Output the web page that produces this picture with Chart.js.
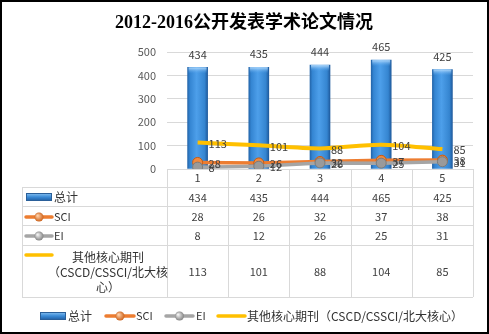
<!DOCTYPE html>
<html>
<head>
<meta charset="utf-8">
<script src="https://cdn.jsdelivr.net/npm/chart.js@4.4.1/dist/chart.umd.min.js"></script>
<style>
  html, body { margin: 0; padding: 0; background: #fff; }
  #wrap { width: 489px; height: 334px; }
</style>
</head>
<body>
<div id="wrap"><canvas id="grafico" width="489" height="334"></canvas></div>
<script>
const titulo = '2012-2016公开发表学术论文情况';
const categorias = ['1', '2', '3', '4', '5'];
const totalValores = [434, 435, 444, 465, 425];
const sciValores = [28, 26, 32, 37, 38];
const eiValores = [8, 12, 26, 25, 31];
const outrosValores = [113, 101, 88, 104, 85];
const nomesSeries = ['总计', 'SCI', 'EI', '其他核心期刊（CSCD/CSSCI/北大核心）'];
const nomeOutrosTabela = ['其他核心期刊', '（CSCD/CSSCI/北大核', '心）'];

const fonteCJK = '"Noto Sans CJK SC", "Noto Sans", sans-serif';
const corTexto = '#404040';
const corGrade = '#d9d9d9';
const corAzul = '#3a8ad6';
const corLaranja = '#ed7d31';
const corCinza = '#a5a5a5';
const corAmarelo = '#ffc000';
const larguraBarra = 20;

function gradienteBarra(ctx) {
    const chart = ctx.chart;
    const xs = chart.scales.x;
    if (!xs || !chart.chartArea) return corAzul;
    const cx = xs.getPixelForValue(ctx.dataIndex);
    if (!isFinite(cx)) return corAzul;
    const x0 = cx - larguraBarra / 2, x1 = cx + larguraBarra / 2;
    const g = chart.ctx.createLinearGradient(x0, 0, x1, 0);
    g.addColorStop(0, '#2466ab');
    g.addColorStop(0.12, '#3485d2');
    g.addColorStop(0.45, '#4d9fea');
    g.addColorStop(0.85, '#3585d0');
    g.addColorStop(1, '#1f5b9e');
    return g;
}

// rótulos de dados
const rotulos = {
    id: 'rotulos',
    afterDatasetsDraw(chart) {
        const ctx = chart.ctx;
        ctx.save();
        ctx.font = '11px ' + fonteCJK;
        ctx.fillStyle = corTexto;
        chart.data.datasets.forEach((ds, i) => {
            const meta = chart.getDatasetMeta(i);
            meta.data.forEach((el, j) => {
                const v = ds.data[j];
                if (ds.type === 'bar') {
                    // tampa clara no topo da barra
                    const g = ctx.createLinearGradient(0, el.y, 0, el.y + 6);
                    g.addColorStop(0, 'rgba(190,225,255,0.9)');
                    g.addColorStop(1, 'rgba(90,166,236,0)');
                    ctx.fillStyle = g;
                    ctx.fillRect(el.x - larguraBarra / 2 + 1, el.y, larguraBarra - 2, 6);
                    ctx.fillStyle = corTexto;
                    ctx.textAlign = 'center';
                    ctx.textBaseline = 'middle';
                    ctx.fillText(v, el.x, el.y - 13);
                } else {
                    ctx.textAlign = 'left';
                    ctx.textBaseline = 'middle';
                    ctx.fillText(v, el.x + 11, el.y + 1);
                }
            });
        });
        ctx.restore();
    }
};

function desenharAmostra(ctx, tipo, x0, x1, y) {
    ctx.save();
    if (tipo === 0) {
        const g = ctx.createLinearGradient(0, y - 4, 0, y + 4);
        g.addColorStop(0, '#8cc4f2');
        g.addColorStop(0.5, '#3a8ad6');
        g.addColorStop(1, '#1f5b9e');
        ctx.fillStyle = g;
        ctx.fillRect(x0, y - 3.5, x1 - x0, 7);
        ctx.strokeStyle = '#2a5f99';
        ctx.lineWidth = 1;
        ctx.strokeRect(x0 + 0.5, y - 3.5, x1 - x0 - 1, 7);
    } else {
        const cor = [null, corLaranja, corCinza, corAmarelo][tipo];
        ctx.strokeStyle = cor;
        ctx.lineWidth = 3.5;
        ctx.lineCap = 'round';
        ctx.beginPath();
        ctx.moveTo(x0 + 1, y);
        ctx.lineTo(x1 - 1, y);
        ctx.stroke();
        if (tipo !== 3) {
            const cx = (x0 + x1) / 2;
            const rg = ctx.createRadialGradient(cx - 1.5, y - 1.5, 0.5, cx, y, 5);
            rg.addColorStop(0, tipo === 1 ? '#ffd0a8' : '#f2f2f2');
            rg.addColorStop(1, tipo === 1 ? '#c85a10' : '#7a7a7a');
            ctx.fillStyle = rg;
            ctx.beginPath();
            ctx.arc(cx, y, 4.5, 0, Math.PI * 2);
            ctx.fill();
        }
    }
    ctx.restore();
}

// título, tabela de dados, legenda e moldura
const tabela = {
    id: 'tabela',
    afterDraw(chart) {
        const ctx = chart.ctx;
        const area = chart.chartArea;
        const xs = chart.scales.x;
        const n = categorias.length;
        const larg = (area.right - area.left) / n;
        const esq = 22;
        const linhas = [area.bottom, 187, 206, 225, 245, 297];

        ctx.save();
        // título
        ctx.fillStyle = '#000';
        ctx.font = 'bold 18px "Liberation Serif", ' + fonteCJK;
        ctx.textAlign = 'center';
        ctx.textBaseline = 'middle';
        ctx.fillText(titulo, 244, 23);

        // linhas da tabela
        ctx.strokeStyle = corGrade;
        ctx.lineWidth = 1;
        ctx.beginPath();
        for (let k = 1; k < linhas.length; k++) {
            ctx.moveTo(esq, linhas[k] + 0.5);
            ctx.lineTo(area.right, linhas[k] + 0.5);
        }
        ctx.moveTo(esq + 0.5, linhas[1]);
        ctx.lineTo(esq + 0.5, linhas[5]);
        for (let k = 0; k <= n; k++) {
            const x = Math.round(area.left + k * larg) + 0.5;
            ctx.moveTo(x, linhas[0]);
            ctx.lineTo(x, linhas[5]);
        }
        ctx.stroke();

        // cabeçalho e valores
        ctx.fillStyle = corTexto;
        ctx.font = '11px ' + fonteCJK;
        ctx.textAlign = 'center';
        const series = [totalValores, sciValores, eiValores, outrosValores];
        categorias.forEach((c, i) => {
            const x = xs.getPixelForValue(i);
            ctx.fillText(c, x, 178);
            series.forEach((s, r) => {
                const y = r < 3 ? (linhas[r + 1] + linhas[r + 2]) / 2 + 1 : 272;
                ctx.fillText(s[i], x, y);
            });
        });

        // nomes das séries
        ctx.textAlign = 'left';
        ctx.font = '12px ' + fonteCJK;
        ctx.fillStyle = '#333';
        desenharAmostra(ctx, 0, 26, 52, 197);
        ctx.fillText(nomesSeries[0], 54, 197);
        desenharAmostra(ctx, 1, 25, 53, 217);
        ctx.font = '11px ' + fonteCJK;
        ctx.fillText(nomesSeries[1], 54, 217);
        desenharAmostra(ctx, 2, 25, 53, 236);
        ctx.fillText(nomesSeries[2], 54, 236);
        desenharAmostra(ctx, 3, 25, 53, 255);
        ctx.font = '12px ' + fonteCJK;
        ctx.textAlign = 'center';
        nomeOutrosTabela.forEach((t, k) => {
            ctx.fillText(t, 108, 257 + k * 15);
        });

        // legenda
        ctx.textAlign = 'left';
        const yl = 316;
        desenharAmostra(ctx, 0, 40, 66, yl);
        ctx.fillText(nomesSeries[0], 68, yl);
        desenharAmostra(ctx, 1, 105, 135, yl);
        ctx.font = '11px ' + fonteCJK;
        ctx.fillText(nomesSeries[1], 136, yl);
        desenharAmostra(ctx, 2, 165, 194, yl);
        ctx.fillText(nomesSeries[2], 196, yl);
        desenharAmostra(ctx, 3, 217, 246, yl);
        ctx.font = '12px ' + fonteCJK;
        ctx.fillText(nomesSeries[3], 247, yl);

        // moldura
        ctx.strokeStyle = '#000';
        ctx.lineWidth = 2;
        ctx.strokeRect(1, 1, chart.width - 2, chart.height - 2);
        ctx.restore();
    }
};

const context = document.getElementById('grafico').getContext('2d');
const chartInstance = new Chart(context, {
    type: 'bar',
    data: {
        labels: categorias,
        datasets: [
            {
                type: 'line',
                label: nomesSeries[2],
                data: eiValores,
                borderColor: corCinza,
                borderWidth: 3.5,
                pointRadius: 5,
                pointBackgroundColor: '#9a9a9a',
                pointBorderColor: '#7a7a7a',
                pointBorderWidth: 1,
                order: 0,
            },
            {
                type: 'line',
                label: nomesSeries[1],
                data: sciValores,
                borderColor: corLaranja,
                borderWidth: 3.5,
                pointRadius: 5,
                pointBackgroundColor: '#f08a40',
                pointBorderColor: '#c85a10',
                pointBorderWidth: 1,
                order: 1,
            },
            {
                type: 'line',
                label: nomesSeries[3],
                data: outrosValores,
                borderColor: corAmarelo,
                borderWidth: 4,
                pointRadius: 0,
                tension: 0.3,
                order: 2,
            },
            {
                type: 'bar',
                label: nomesSeries[0],
                data: totalValores,
                backgroundColor: gradienteBarra,
                borderWidth: 0,
                barThickness: larguraBarra,
                order: 3,
            },
        ],
    },
    options: {
        responsive: false,
        animation: false,
        events: [],
        layout: { padding: { left: 127, right: 16, top: 52, bottom: 165 } },
        plugins: {
            legend: { display: false },
            tooltip: { enabled: false },
            title: { display: false },
        },
        scales: {
            x: {
                display: false,
            },
            y: {
                min: 0,
                max: 500,
                afterFit(scale) { scale.width = 40; },
                ticks: {
                    stepSize: 50,
                    color: '#595959',
                    font: { size: 11, family: fonteCJK },
                    padding: 11,
                },
                grid: { color: corGrade, drawTicks: false },
                border: { display: false },
            },
        },
    },
    plugins: [rotulos, tabela],
});
</script>
</body>
</html>
